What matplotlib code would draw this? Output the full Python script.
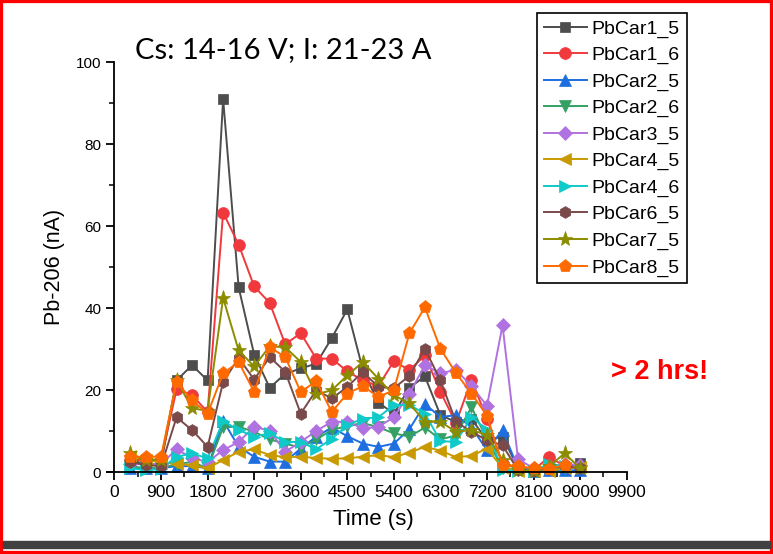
import numpy as np
import matplotlib
matplotlib.use("Agg")
import matplotlib.pyplot as plt
from matplotlib.ticker import MultipleLocator
from matplotlib.patches import Rectangle

nan = np.nan
time_s = [300, 600, 900, 1200, 1500, 1800, 2100, 2400, 2700, 3000,
          3300, 3600, 3900, 4200, 4500, 4800, 5100, 5400, 5700, 6000,
          6300, 6600, 6900, 7200, 7500, 7800, 8100, 8400, 8700, 9000]

pbcar1_5 = [3, 2, 2, 22.4, 26.1, 22.4, 91, 45.1, 28.7, 20.6,
            24.0, 25.3, 26.5, 32.7, 39.7, 25.0, 17.0, 14.3, 20.6, 23.4,
            13.9, 12.3, 13.0, 7.8, 8.7, 1.0, 0.5, 1.0, 1.0, 2.3]
pbcar1_6 = [3, 3, 3, 20.2, 18.8, 14.7, 63.3, 55.5, 45.3, 41.3,
            31.2, 33.9, 27.7, 27.7, 24.6, 22.4, 21.0, 27.1, 24.9, 28.5,
            19.6, 12.0, 22.6, 13.0, 2.0, 1.0, 0.5, 3.8, 1.5, 1.0]
pbcar2_5 = [1, 1, 1, 1.5, 1.5, 1, 12.6, 6.2, 3.8, 2.6,
            2.6, 5.8, 8.7, 10.9, 8.8, 7.0, 6.2, 7.0, 10.5, 16.6,
            13.5, 13.9, 11.0, 5.4, 10.3, 1.0, 0.3, 0.5, 0.5, 0.5]
pbcar2_6 = [1.5, 1, 1, 2, 2.5, 1, 11.0, 11.1, 9.9, 8.0,
            7.0, 6.0, 8.0, 10.3, 11.3, 12.0, 11.0, 9.5, 8.7, 10.9,
            8.0, 9.0, 15.9, 8.0, 1.0, 0.5, 0.3, 1.0, 1.0, nan]
pbcar3_5 = [2, 2, 2, 5.6, 3.5, 2.5, 5.4, 7.4, 11.1, 10.1,
            5.0, 7.4, 10.1, 12.3, 12.3, 10.7, 11.1, 13.4, 19.2, 26.1,
            24.1, 25.0, 21.0, 16.2, 35.8, 3.2, 1.0, 1.5, 2.0, 1.8]
pbcar4_5 = [4.0, 3.0, 2.5, 2.0, 1.8, 1.0, 3.0, 5.0, 5.6, 4.2,
            3.7, 3.8, 3.5, 3.3, 3.4, 3.8, 4.2, 3.7, 4.8, 6.2,
            5.3, 3.7, 4.0, 5.8, 1.0, 0.3, 0.3, 0.3, 1.0, 1.2]
pbcar4_6 = [1, 0.5, 0.8, 3.8, 4.6, 3.4, 12.5, 10.3, 8.7, 9.5,
            7.4, 7.4, 5.6, 8.2, 11.5, 13.1, 13.4, 16.4, 16.4, 14.3,
            7.6, 7.4, 13.5, 10.3, 0.5, 0.3, 0.3, 2.0, 1.5, nan]
pbcar6_5 = [2.5, 1.8, 1.5, 13.4, 10.3, 6.2, 22.0, 27.9, 22.6, 28.1,
            24.5, 14.3, 20.0, 18.0, 20.8, 24.5, 20.8, 20.5, 23.5, 30.1,
            22.4, 12.3, 9.9, 7.8, 6.6, 0.5, 0.3, 1.0, 1.5, 1.0]
pbcar7_5 = [4.6, 3.0, 3.0, 22.4, 15.6, 15.0, 42.5, 29.7, 25.8, 30.7,
            30.5, 26.9, 19.0, 20.0, 23.6, 26.9, 22.8, 18.8, 16.8, 12.3,
            12.3, 9.9, 10.3, 9.1, 3.0, 0.5, 0.3, 1.5, 4.6, 1.0]
pbcar8_5 = [3.8, 3.8, 3.8, 22.0, 17.6, 14.3, 24.1, 26.9, 19.6, 30.5,
            28.1, 19.6, 22.2, 14.7, 19.2, 21.0, 18.4, 20.0, 33.9, 40.2,
            30.1, 24.2, 19.2, 13.8, 1.8, 1.5, 1.0, 0.8, 1.8, nan]

series_names = ["PbCar1_5", "PbCar1_6", "PbCar2_5", "PbCar2_6", "PbCar3_5",
                "PbCar4_5", "PbCar4_6", "PbCar6_5", "PbCar7_5", "PbCar8_5"]
series_values = [pbcar1_5, pbcar1_6, pbcar2_5, pbcar2_6, pbcar3_5,
                 pbcar4_5, pbcar4_6, pbcar6_5, pbcar7_5, pbcar8_5]
colors = ["#4d4d4d", "#f0393d", "#1d6fe0", "#34a063", "#b072e0",
          "#c99a00", "#10c9c9", "#7a4a4a", "#8c8c00", "#ff6a00"]
markers = ["s", "o", "^", "v", "D", "<", ">", "h", "*", "p"]
msizes = [7.5, 8.5, 8.5, 8.5, 7.5, 8.5, 8.5, 8.5, 11, 9.5]

x_ticks = [0, 900, 1800, 2700, 3600, 4500, 5400, 6300, 7200, 8100, 9000, 9900]
y_ticks = [0, 20, 40, 60, 80, 100]

W, H = 773, 554
fig = plt.figure(figsize=(W / 100, H / 100), dpi=100)
ax = fig.add_axes([106.7 / W, 1 - 472.3 / H, (626.7 - 106.7) / W, (472.3 - 62) / H])

for name, vals, c, m, ms in zip(series_names, series_values, colors, markers, msizes):
    ax.plot(time_s, vals, color=c, marker=m, markersize=ms, lw=1.4,
            markeredgewidth=0.5, markeredgecolor=c, label=name, clip_on=False)

ax.set_xlim(-150, 9900)
ax.set_ylim(0, 100)
ax.spines['left'].set_position(('data', 0))
ax.spines['top'].set_visible(False)
ax.spines['right'].set_visible(False)
for s in ['left', 'bottom']:
    ax.spines[s].set_linewidth(1.3)
ax.set_xticks(x_ticks)
ax.set_yticks(y_ticks)
ax.xaxis.set_minor_locator(MultipleLocator(450))
ax.yaxis.set_minor_locator(MultipleLocator(10))
ax.tick_params(which='major', direction='out', length=6, width=1.3)
ax.tick_params(which='minor', direction='out', length=3.5, width=1.1)
for lab in ax.get_xticklabels():
    lab.set_fontfamily('Liberation Sans')
    lab.set_fontsize(12.5)
for lab in ax.get_yticklabels():
    lab.set_fontfamily('Liberation Sans')
    lab.set_fontsize(11)

ax.set_xlabel("Time (s)", fontsize=16, fontfamily='Liberation Sans', labelpad=7)
ax.xaxis.set_label_coords((373 - 106.7) / (626.7 - 106.7), -0.09)
ax.set_ylabel("Pb-206 (nA)", fontsize=15.5, fontfamily='Liberation Sans', labelpad=8)

fig.text(135 / W, 1 - 50 / H, "Cs: 14-16 V; I: 21-23 A", fontsize=21,
         fontfamily='Lato', va='center', ha='left')
fig.text(611 / W, 1 - 372 / H, "> 2 hrs!", fontsize=19.5, fontweight='bold',
         color='#ff0000', fontfamily='Liberation Sans', va='center', ha='left')

leg = ax.legend(loc='upper left', bbox_to_anchor=(537 / W, 1 - 13 / H),
                bbox_transform=fig.transFigure, frameon=True, fancybox=False,
                edgecolor='black', framealpha=1,
                prop={'family': 'Liberation Sans', 'size': 14},
                handlelength=2.2, handletextpad=0.25, labelspacing=0.45,
                borderpad=0.35, borderaxespad=0)
leg.get_frame().set_linewidth(1.2)

# image frame: red border and dark bar at the bottom
fig.patches.append(Rectangle((0, 0), 1, 1, transform=fig.transFigure,
                             fill=False, edgecolor='#ff0000', linewidth=4.5))
fig.patches.append(Rectangle((3 / W, 6 / H), 1 - 6 / W, 7 / H,
                             transform=fig.transFigure, color='#404040'))

fig.savefig("out.png", dpi=100)
